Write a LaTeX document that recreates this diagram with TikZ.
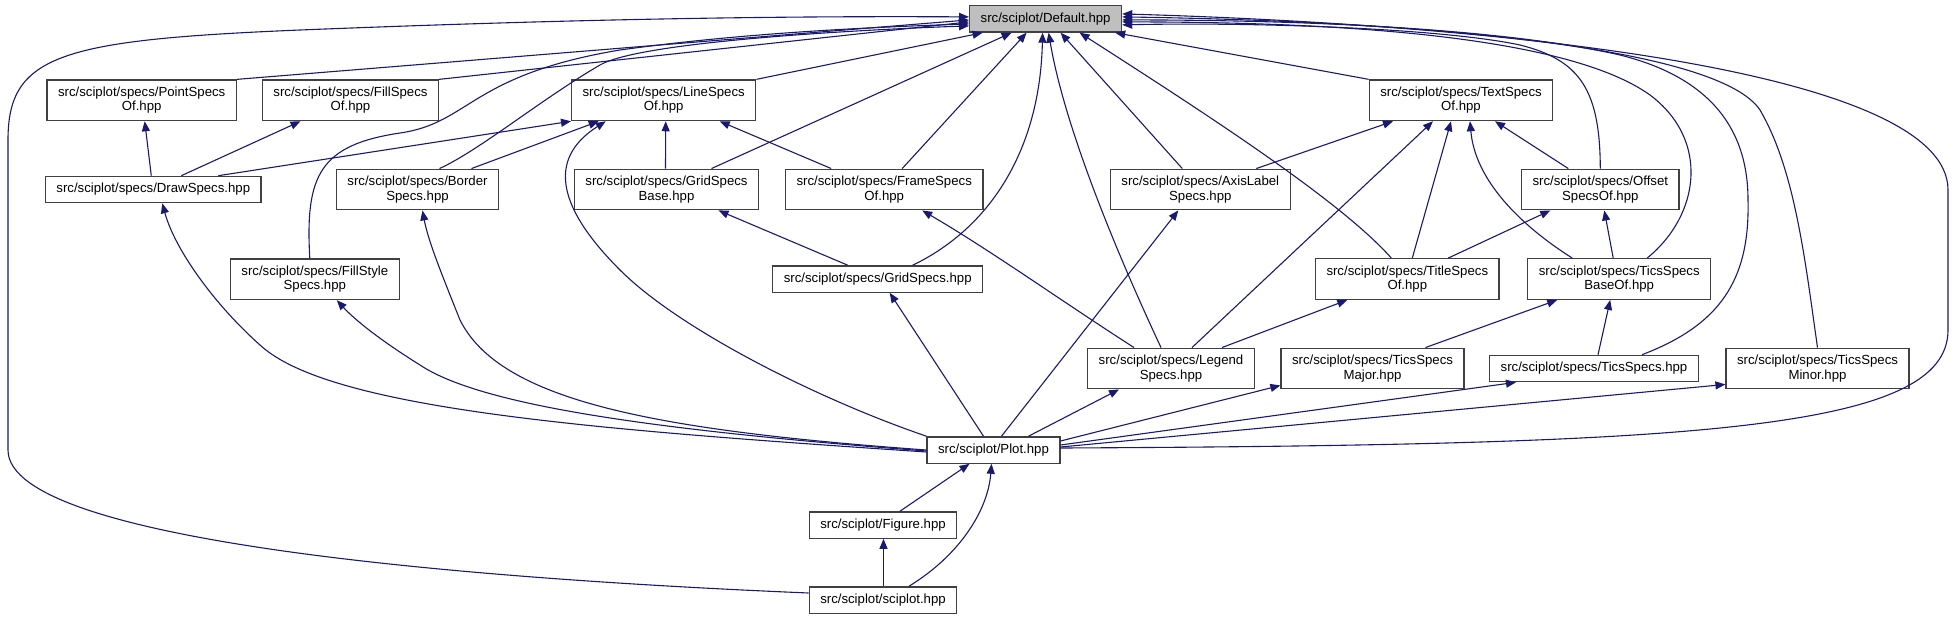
\documentclass[tikz,border=0pt]{standalone}
\usepackage{fontspec}
\setmainfont{Liberation Sans}
\usetikzlibrary{arrows.meta}
\definecolor{edgeblue}{RGB}{25,25,112}
\definecolor{boxline}{RGB}{64,64,64}
\definecolor{rootgray}{RGB}{191,191,191}

\begin{document}
\begin{tikzpicture}[
  x=1pt, y=-1pt,
  >={Triangle[length=10pt,width=8pt]},
  hdr/.style={draw=boxline, fill=white, line width=1.3pt, inner xsep=11pt, inner ysep=7pt,
    minimum height=26pt, align=center, font=\fontsize{13.2}{14.3}\selectfont},
  root/.style={hdr, fill=rootgray},
  arr/.style={->, edgeblue, line width=1.1pt},
]
\useasboundingbox (0,0) rectangle (1957,619);

\node[root] (dflt) at (1045.6,18.9) {src/sciplot/Default.hpp};

\node[hdr] (pt) at (141.7,100.3) {src/sciplot/specs/PointSpecs\\Of.hpp};
\node[hdr] (fs) at (350.5,100.3) {src/sciplot/specs/FillSpecs\\Of.hpp};
\node[hdr] (ls) at (663.7,100.3) {src/sciplot/specs/LineSpecs\\Of.hpp};
\node[hdr] (ts) at (1461,100.3) {src/sciplot/specs/TextSpecs\\Of.hpp};

\node[hdr] (ds) at (153.3,189.5) {src/sciplot/specs/DrawSpecs.hpp};
\node[hdr] (bs) at (417.5,189.5) {src/sciplot/specs/Border\\Specs.hpp};
\node[hdr] (gsb) at (666.5,189.5) {src/sciplot/specs/GridSpecs\\Base.hpp};
\node[hdr] (frs) at (884.2,189.5) {src/sciplot/specs/FrameSpecs\\Of.hpp};
\node[hdr] (axl) at (1200.3,189.5) {src/sciplot/specs/AxisLabel\\Specs.hpp};
\node[hdr] (ofs) at (1600.3,189.5) {src/sciplot/specs/Offset\\SpecsOf.hpp};

\node[hdr] (fst) at (314.8,279.2) {src/sciplot/specs/FillStyle\\Specs.hpp};
\node[hdr] (gs) at (877.7,279) {src/sciplot/specs/GridSpecs.hpp};
\node[hdr] (tis) at (1407.3,279) {src/sciplot/specs/TitleSpecs\\Of.hpp};
\node[hdr] (tbo) at (1619.2,279) {src/sciplot/specs/TicsSpecs\\BaseOf.hpp};

\node[hdr] (leg) at (1171,368.5) {src/sciplot/specs/Legend\\Specs.hpp};
\node[hdr] (maj) at (1372.5,368.5) {src/sciplot/specs/TicsSpecs\\Major.hpp};
\node[hdr] (tcs) at (1594,368.5) {src/sciplot/specs/TicsSpecs.hpp};
\node[hdr] (mnr) at (1817.5,368.5) {src/sciplot/specs/TicsSpecs\\Minor.hpp};

\node[hdr] (plot) at (993.5,450) {src/sciplot/Plot.hpp};
\node[hdr] (fig) at (883,525) {src/sciplot/Figure.hpp};
\node[hdr] (sci) at (883,600) {src/sciplot/sciplot.hpp};

% into Default.hpp
\draw[arr] ([yshift=7]sci.west) .. controls (500,580) and (8,545) .. (8,450) -- (8,140)
  .. controls (8,55) and (60,40) .. (300,30) .. controls (600,18) and (800,16) .. ([yshift=2]dflt.west);
\draw[arr] (pt.north east) -- ([yshift=-1]dflt.west);
\draw[arr] (fs.north east) -- ([yshift=-3]dflt.west);
\draw[arr] ([xshift=-5]fst.north) .. controls (305,175) and (320,145) .. (400,133)
  .. controls (470,123) and (470,75) .. (620,50) .. controls (750,32) and (880,27) .. ([yshift=-5]dflt.west);
\draw[arr] ([xshift=22]bs.north) .. controls (480,150) and (540,100) .. (600,65)
  .. controls (640,42) and (850,30) .. ([yshift=-7]dflt.west);
\draw[arr] (ls.north east) -- ([xshift=-63]dflt.south);
\draw[arr] ([xshift=45]gsb.north) -- ([xshift=-34]dflt.south);
\draw[arr] ([xshift=18]frs.north) -- ([xshift=-19]dflt.south);
\draw[arr] ([xshift=35]gs.north) .. controls (990,228) and (1040,150) .. ([xshift=-3]dflt.south);
\draw[arr] ([xshift=-10]leg.north) .. controls (1120,260) and (1065,130) .. ([xshift=3]dflt.south);
\draw[arr] ([xshift=-18]axl.north) -- ([xshift=15]dflt.south);
\draw[arr] ([xshift=-16]tis.north) .. controls (1340,200) and (1200,110) .. ([xshift=34]dflt.south);
\draw[arr] (ts.north west) -- ([xshift=-7]dflt.south east);
\draw[arr] (ofs.north) .. controls (1600,90) and (1580,60) .. (1520,45)
  .. controls (1440,28) and (1250,22) .. ([yshift=-6]dflt.east);
\draw[arr] ([xshift=28]tbo.north) .. controls (1700,215) and (1710,140) .. (1650,95)
  .. controls (1580,45) and (1400,22) .. ([yshift=-3]dflt.east);
\draw[arr] ([xshift=48]tcs.north) .. controls (1720,325) and (1750,280) .. (1748,200)
  .. controls (1748,120) and (1700,75) .. (1620,55) .. controls (1500,28) and (1300,20) .. ([yshift=-1]dflt.east);
\draw[arr] (mnr.north) .. controls (1805,260) and (1795,170) .. (1760,110)
  .. controls (1720,50) and (1450,22) .. ([yshift=2]dflt.east);
\draw[arr] ([yshift=2]plot.east) .. controls (1700,445) and (1948,430) .. (1948,330) -- (1948,190)
  .. controls (1948,70) and (1500,25) .. ([yshift=5]dflt.east);

% between the specs headers
\draw[arr] ([xshift=-2]ds.north) -- ([xshift=3]pt.south);
\draw[arr] ([xshift=28]ds.north) -- ([xshift=-50]fs.south);
\draw[arr] ([xshift=65]ds.north) -- (ls.south west);
\draw[arr] ([xshift=54]bs.north) -- ([xshift=-65]ls.south);
\draw[arr] ([xshift=-1]gsb.north) -- ([xshift=2]ls.south);
\draw[arr] ([xshift=-53]frs.north) -- ([xshift=56]ls.south);
\draw[arr] ([xshift=-30]gs.north) -- ([xshift=52]gsb.south);
\draw[arr] ([xshift=-37]leg.north) .. controls (1060,300) and (990,250) .. ([xshift=38]frs.south);
\draw[arr] ([xshift=56]axl.north) -- ([xshift=-68]ts.south);
\draw[arr] ([xshift=21]leg.north) -- ([xshift=-28]ts.south);
\draw[arr] ([xshift=5]tis.north) -- ([xshift=-10]ts.south);
\draw[arr] ([xshift=-47]tbo.north) .. controls (1520,225) and (1475,180) .. ([xshift=9]ts.south);
\draw[arr] ([xshift=-32]ofs.north) -- ([xshift=34]ts.south);
\draw[arr] ([xshift=41]tis.north) -- ([xshift=-50]ofs.south);
\draw[arr] ([xshift=-6]tbo.north) -- ([xshift=4]ofs.south);
\draw[arr] ([xshift=51]leg.north) -- ([xshift=-60]tis.south);
\draw[arr] ([xshift=53]maj.north) -- ([xshift=-62]tbo.south);
\draw[arr] ([xshift=4]tcs.north) -- ([xshift=-9]tbo.south);

% out of Plot.hpp
\draw[arr] (plot.north west) .. controls (820,400) and (680,330) .. (620,270)
  .. controls (560,210) and (545,160) .. ([xshift=-58]ls.south);
\draw[arr] ([yshift=-2]plot.west) .. controls (600,430) and (330,410) .. (260,345)
  .. controls (215,305) and (175,250) .. ([xshift=9]ds.south);
\draw[arr] ([yshift=-1]plot.west) .. controls (650,430) and (480,405) .. (420,365)
  .. controls (380,340) and (355,320) .. ([xshift=22]fst.south);
\draw[arr] (plot.west) .. controls (650,430) and (500,400) .. (460,320)
  .. controls (440,270) and (428,240) .. ([xshift=5]bs.south);
\draw[arr] ([xshift=-10]plot.north) -- ([xshift=12]gs.south);
\draw[arr] ([xshift=8]plot.north) -- ([xshift=-22]axl.south);
\draw[arr] ([xshift=35]plot.north) -- ([xshift=-52]leg.south);
\draw[arr] ([yshift=9]plot.east) -- ([yshift=4]maj.south west);
\draw[arr] ([yshift=5]plot.east) -- ([xshift=-78]tcs.south);
\draw[arr] ([yshift=3]plot.east) -- ([yshift=5]mnr.south west);

% Figure and sciplot
\draw[arr] ([xshift=17]fig.north) -- ([xshift=-24]plot.south);
\draw[arr] ([xshift=26]sci.north) .. controls (960,555) and (988,510) .. ([xshift=-2]plot.south);
\draw[arr] ([xshift=0.5]sci.north) -- ([xshift=0.5]fig.south);

\end{tikzpicture}
\end{document}
